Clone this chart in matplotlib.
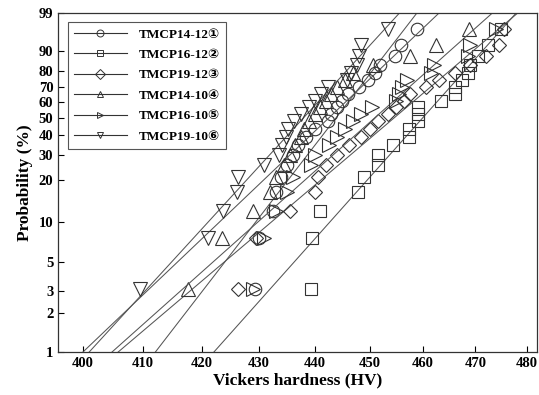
import numpy as np
import matplotlib.pyplot as plt
from matplotlib.lines import Line2D
from matplotlib.ticker import FixedLocator, NullLocator

plt.rcParams['font.family'] = ['Liberation Serif', 'DejaVu Sans']

# median-rank probabilities (%) shared by every sample set
prob = [3.1, 7.6, 12.1, 16.5, 21.0, 25.4, 29.9, 34.4, 38.8, 43.3, 47.8,
        52.2, 56.7, 61.2, 65.6, 70.1, 74.6, 79.0, 83.5, 87.9, 92.4, 96.9]

# sorted Vickers hardness readings (HV)
hv_14_12 = [429.3, 430.0, 432.5, 433.0, 434.0, 435.0, 436.0, 437.0, 438.5, 440.0, 442.4,
            443.0, 444.0, 445.0, 446.0, 448.0, 449.7, 451.0, 452.0, 454.7, 455.9, 458.9]
hv_16_12 = [439.4, 439.5, 441.0, 447.9, 448.9, 451.6, 451.6, 454.4, 457.3, 457.3, 459.0,
            459.0, 459.0, 463.4, 466.1, 466.1, 467.5, 468.5, 469.0, 470.5, 472.5, 475.0]
hv_19_12 = [426.4, 429.5, 435.5, 440.0, 440.5, 442.0, 444.0, 446.3, 448.5, 450.0, 451.6,
            453.5, 455.0, 456.5, 457.5, 460.5, 463.0, 466.0, 469.0, 472.0, 474.5, 475.5]
hv_14_10 = [417.7, 423.5, 429.0, 432.0, 433.0, 434.5, 435.5, 436.5, 437.5, 438.0, 439.0,
            440.0, 441.0, 442.0, 443.0, 444.0, 445.4, 447.0, 450.6, 457.5, 462.5, 468.8]
hv_16_10 = [429.0, 431.0, 433.0, 435.0, 436.0, 439.4, 440.0, 442.5, 444.0, 445.5, 447.0,
            448.5, 450.5, 455.0, 455.5, 456.0, 457.0, 461.5, 462.0, 468.5, 469.0, 474.0]
hv_19_10 = [409.5, 421.2, 423.8, 426.2, 426.4, 431.0, 433.5, 434.2, 434.8, 435.2, 436.2,
            437.6, 438.9, 440.1, 441.2, 442.3, 445.9, 446.6, 447.7, 448.0, 448.4, 453.4]

labels = ['TMCP14-12①', 'TMCP16-12②', 'TMCP19-12③',
          'TMCP14-10④', 'TMCP16-10⑤', 'TMCP19-10⑥']
series = [hv_14_12, hv_16_12, hv_19_12, hv_14_10, hv_16_10, hv_19_10]
markers = ['o', 's', 'D', '^', '>', 'v']
msizes = [9, 8, 7, 10, 10, 10]


def weib(p):
    p = np.clip(np.asarray(p, dtype=float), 1e-3, 99.999) / 100.0
    return np.log(-np.log(1.0 - p))


def weib_inv(w):
    return 100.0 * (1.0 - np.exp(-np.exp(np.asarray(w, dtype=float))))


fig, ax = plt.subplots(figsize=(5.39, 3.95), dpi=100)
fig.subplots_adjust(left=0.108, right=0.996, bottom=0.109, top=0.967)

ax.set_xscale('log')
ax.set_yscale('function', functions=(weib, weib_inv))

w_pts = weib(prob)
for hv, mk, ms in zip(series, markers, msizes):
    hv = np.asarray(hv)
    # Weibull fit: ln(-ln(1-F)) = m ln(HV) + c
    m, c = np.polyfit(np.log(hv), w_pts, 1)
    w_line = weib([0.5, 99.9])
    x_line = np.exp((w_line - c) / m)
    ax.plot(x_line, weib_inv(w_line), color='#555555', lw=0.75)
    ax.plot(hv, prob, linestyle='none', marker=mk, ms=ms, mfc='none',
            mec='#333333', mew=0.8)

ax.set_xlim(396, 482)
ax.set_ylim(1, 99)

xt = [400, 410, 420, 430, 440, 450, 460, 470, 480]
ax.xaxis.set_major_locator(FixedLocator(xt))
ax.xaxis.set_minor_locator(NullLocator())
ax.set_xticklabels([str(v) for v in xt])
yt = [1, 2, 3, 5, 10, 20, 30, 40, 50, 60, 70, 80, 90, 99]
ax.yaxis.set_major_locator(FixedLocator(yt))
ax.yaxis.set_minor_locator(NullLocator())
ax.set_yticklabels([str(v) for v in yt])

ax.tick_params(direction='in', length=4, width=0.8, labelsize=10.5)
for lab in ax.get_xticklabels() + ax.get_yticklabels():
    lab.set_fontweight('bold')
for sp in ax.spines.values():
    sp.set_linewidth(0.9)
    sp.set_color('#333333')

ax.set_xlabel('Vickers hardness (HV)', fontsize=12.5, fontweight='bold', labelpad=2)
ax.set_ylabel('Probability (%)', fontsize=12.5, fontweight='bold', labelpad=4)

handles = [Line2D([], [], color='#333333', lw=0.8, marker=mk, ms=5, mfc='none',
                  mec='#333333', mew=0.7) for mk in markers]
leg = ax.legend(handles, labels, loc='upper left', bbox_to_anchor=(0.015, 0.98),
                fancybox=False, edgecolor='#555555', framealpha=1,
                prop={'weight': 'bold', 'size': 9.5}, handlelength=4.0,
                borderpad=0.45, labelspacing=0.62, handletextpad=0.9,
                borderaxespad=0.2)
leg.get_frame().set_linewidth(0.8)

fig.savefig('out.png', dpi=100)
